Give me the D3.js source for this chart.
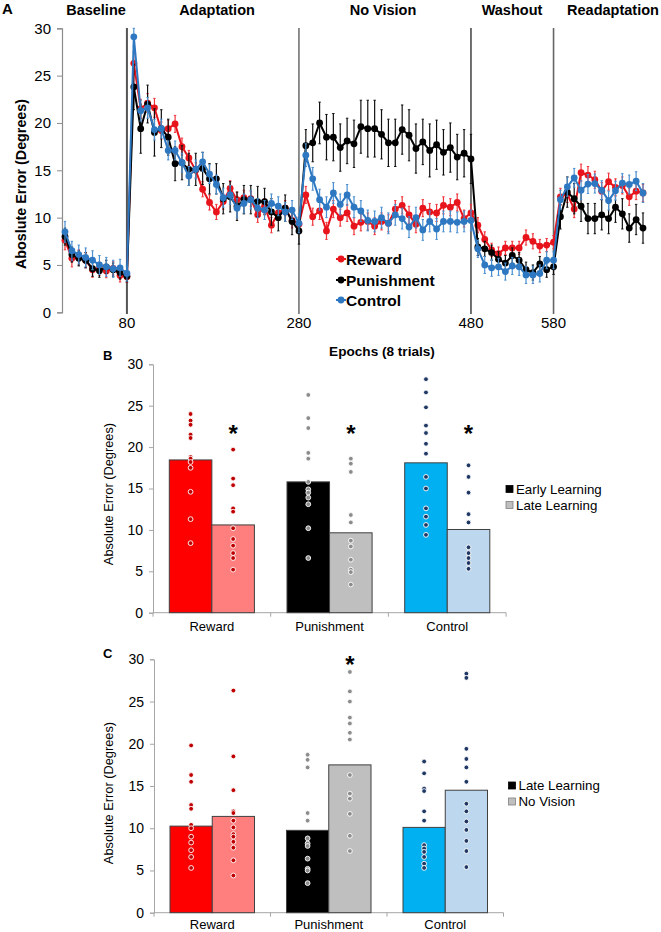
<!DOCTYPE html>
<html><head><meta charset="utf-8">
<script src="https://cdn.jsdelivr.net/npm/d3@7/dist/d3.min.js"></script>
<style>
body{margin:0;background:#fff}
svg{display:block}
text{font-family:Arial,"Liberation Sans",sans-serif;fill:#000}
</style>
</head><body>
<svg id="chart" width="661" height="932"></svg>
<script>
// ---------------- DATA ----------------
// Panel A: 85 epochs of 8 trials (baseline 10, adaptation 25, no vision 25, washout 12, readaptation 13)
const phaseLabels = ["Baseline", "Adaptation", "No Vision", "Washout", "Readaptation"];
const xTickLabels = ["80", "280", "480", "580"];
const xTickEpochs = [10, 35, 60, 72];
const seriesNames = ["Reward", "Punishment", "Control"];

const rewardA = [
  7.6, 5.7, 5.8, 5.5, 4.5, 4.6, 4.35, 4.65, 3.9, 3.75,
  26.3, 21.5, 22.1, 21.6, 19.2, 19.4, 19.9, 17.5, 16.3, 15.0, 13.0, 11.6, 10.6, 11.7, 13.1, 11.9, 12.1, 12.0, 10.3, 11.2, 9.2, 10.5, 11.0, 9.7, 9.3,
  12.4, 10.1, 10.7, 8.6, 10.9, 10.0, 10.5, 9.1, 9.5, 9.6, 9.1, 9.6, 9.4, 10.9, 11.3, 10.3, 9.3, 11.0, 10.6, 10.5, 11.3, 11.1, 11.6, 9.9, 10.5,
  9.2, 7.7, 6.6, 6.2, 6.8, 6.8, 6.8, 7.9, 7.5, 7.0, 7.1, 7.4,
  12.2, 12.5, 10.9, 14.75, 14.5, 14.0, 12.8, 13.8, 13.2, 13.4, 12.2, 12.8, 12.6
];
const rewardErr = [
  1.0, 0.9, 0.8, 0.8, 0.8, 0.7, 0.7, 0.7, 0.7, 0.6,
  1.2, 1.0, 1.0, 1.0, 0.9, 0.9, 0.9, 0.9, 0.8, 0.8, 0.8, 0.8, 0.8, 0.8, 0.8, 0.8, 0.8, 0.8, 0.8, 0.8, 0.8, 0.8, 0.8, 0.8, 0.8,
  0.9, 0.9, 0.9, 0.9, 0.9, 0.9, 0.9, 0.9, 0.9, 0.9, 0.9, 0.9, 0.9, 0.9, 0.9, 0.9, 0.9, 0.9, 0.9, 0.9, 0.9, 0.9, 0.9, 0.9, 0.9,
  0.8, 0.8, 0.7, 0.7, 0.7, 0.7, 0.7, 0.8, 0.8, 0.7, 0.7, 0.7,
  0.9, 0.9, 0.9, 0.9, 0.9, 0.9, 0.9, 0.9, 0.9, 0.9, 0.9, 0.9, 0.9
];
const punishmentA = [
  8.0, 6.1, 5.7, 5.5, 4.6, 4.4, 4.8, 4.5, 4.2, 3.8,
  23.8, 19.4, 22.0, 19.0, 19.4, 18.5, 15.7, 15.8, 15.1, 15.1, 15.2, 14.1, 14.1, 12.0, 12.2, 11.2, 11.9, 11.9, 11.7, 11.7, 10.6, 10.0, 11.0, 9.6, 8.6,
  17.6, 17.9, 20.0, 18.5, 18.5, 17.4, 18.1, 17.8, 19.6, 19.4, 19.4, 18.8, 17.9, 17.9, 19.3, 18.7, 17.3, 18.0, 17.1, 17.7, 16.9, 17.4, 16.4, 16.8, 16.2,
  6.9, 6.7, 6.3, 5.6, 5.2, 6.0, 5.5, 4.5, 4.2, 5.1, 4.5, 4.8,
  10.1, 12.7, 12.0, 11.2, 9.9, 9.9, 10.3, 9.9, 11.1, 10.4, 8.9, 9.8, 8.9
];
const punishmentErr = [
  0.9, 0.8, 0.8, 0.8, 0.8, 0.7, 0.7, 0.7, 0.7, 0.6,
  2.4, 2.6, 2.0, 2.5, 2.0, 1.9, 1.8, 1.8, 1.7, 1.7, 1.7, 1.6, 1.6, 1.6, 1.6, 1.5, 1.5, 1.5, 1.6, 1.4, 1.4, 1.4, 1.4, 1.4, 1.4,
  1.7, 2.0, 2.2, 2.4, 2.5, 2.5, 2.4, 2.5, 2.8, 3.0, 3.0, 2.6, 2.5, 2.5, 2.6, 2.7, 2.6, 2.4, 2.8, 2.6, 2.4, 2.6, 2.4, 2.5, 2.6,
  0.9, 0.8, 0.8, 0.8, 0.8, 0.8, 0.8, 0.8, 0.8, 0.8, 0.8, 0.8,
  1.3, 1.6, 1.6, 1.6, 1.6, 1.6, 1.6, 1.6, 1.6, 1.6, 1.5, 1.6, 1.6
];
const controlA = [
  8.5, 6.5, 6.1, 5.8, 5.5, 5.0, 4.8, 4.6, 4.7, 4.1,
  29.1, 21.3, 21.6, 19.3, 19.4, 17.1, 17.1, 15.8, 14.4, 15.1, 15.9, 14.6, 13.5, 12.1, 12.4, 11.0, 11.5, 11.9, 11.0, 10.8, 11.5, 11.2, 10.6, 10.8, 9.4,
  16.6, 14.1, 11.9, 11.1, 12.6, 11.4, 12.4, 11.1, 10.7, 9.7, 9.6, 10.0, 9.4, 10.3, 9.9, 9.0, 10.0, 8.7, 9.6, 8.8, 9.6, 9.6, 9.5, 9.6, 9.7,
  6.7, 5.0, 4.7, 4.8, 4.3, 4.9, 4.8, 3.95, 3.95, 4.1, 5.5, 5.5,
  11.9, 13.25, 14.2, 12.9, 13.55, 13.6, 12.9, 11.8, 12.85, 13.65, 13.5, 13.85, 12.6
];
const controlErr = [
  1.1, 1.0, 1.0, 1.0, 1.0, 1.0, 1.0, 0.9, 0.9, 0.8,
  1.0, 1.1, 1.1, 1.1, 1.0, 1.0, 1.0, 1.0, 1.0, 1.0, 1.0, 1.0, 1.0, 1.0, 1.0, 1.0, 1.0, 1.0, 1.0, 1.0, 1.0, 1.0, 1.0, 1.0, 1.0,
  1.2, 1.2, 1.1, 1.1, 1.1, 1.1, 1.1, 1.1, 1.1, 1.1, 1.1, 1.1, 1.1, 1.1, 1.1, 1.1, 1.1, 1.1, 1.1, 1.1, 1.1, 1.1, 1.1, 1.1, 1.1,
  0.9, 0.9, 0.9, 0.9, 0.9, 0.9, 0.9, 0.9, 0.9, 0.9, 0.9, 0.9,
  1.0, 1.0, 1.0, 1.0, 1.0, 1.0, 1.0, 1.0, 1.0, 1.0, 1.0, 1.0, 1.0
];

// Panel B & C categories
const groups = ["Reward", "Punishment", "Control"];
const yTicksBar = [0, 5, 10, 15, 20, 25, 30];

// Panel B: Early Learning vs Late Learning
const legendB = ["Early Learning", "Late Learning"];
const barsEarlyB = [18.45, 15.8, 18.1];
const barsLateB = [10.6, 9.65, 10.05];
const dotsEarlyB = [
  [24.0, 23.2, 22.7, 21.5, 21.1, 18.8, 18.6, 18.2, 17.5, 14.6, 11.3, 8.4],
  [26.3, 23.5, 22.3, 19.3, 18.6, 15.8, 14.9, 14.5, 13.9, 13.1, 10.2, 6.6],
  [28.2, 26.6, 24.8, 22.6, 21.7, 20.4, 19.2, 16.4, 15.0, 12.6, 11.6, 10.6, 9.4]
];
const dotsLateB = [
  [19.7, 16.2, 15.4, 12.6, 12.2, 10.2, 8.9, 8.1, 7.2, 6.6, 5.2],
  [18.6, 18.0, 17.0, 11.8, 10.9, 8.7, 8.0, 6.4, 5.2, 4.9, 3.4],
  [17.8, 16.4, 14.5, 11.9, 10.9, 7.9, 7.2, 6.6, 6.0, 5.3]
];
const starsB = [true, true, true];

// Panel C: Late Learning vs No Vision
const legendC = ["Late Learning", "No Vision"];
const barsLateC = [10.25, 9.75, 10.1];
const barsNoVisionC = [11.4, 17.5, 14.5];
const dotsLateC = [
  [19.8, 16.3, 15.5, 12.75, 12.3, 10.4, 10.0, 9.0, 8.3, 7.4, 6.6, 5.3],
  [18.7, 18.1, 17.2, 11.8, 10.9, 8.8, 8.2, 7.9, 6.4, 5.2, 5.0, 3.5],
  [17.9, 16.5, 14.7, 14.4, 12.0, 10.9, 8.0, 7.6, 7.2, 6.6, 5.8, 5.3]
];
const dotsNoVisionC = [
  [26.3, 18.5, 14.5, 12.0, 11.8, 10.9, 10.1, 9.3, 9.0, 8.4, 7.7, 6.2, 4.4],
  [28.5, 26.2, 25.0, 23.1, 22.4, 21.3, 20.5, 16.3, 14.1, 13.5, 11.7, 9.1, 7.3],
  [28.3, 27.8, 19.4, 18.2, 17.2, 15.5, 12.9, 12.0, 10.8, 9.8, 8.5, 7.3, 5.4]
];
const starsC = [false, true, false];

// ---------------- STYLE ----------------
const seriesColors = ["#e8141c", "#000000", "#2e78c2"];
const errColors = ["#f0343a", "#111111", "#4a8fd0"];
const barFillDark = ["#ff0000", "#000000", "#00b0f0"];
const barFillLight = ["#ff7f7f", "#bfbfbf", "#bdd7ee"];
const dotColors = ["#c00000", "#8c8c8c", "#1f3864"];

const svg = d3.select("#chart");

// ---------------- PANEL A ----------------
(function panelA() {
  const x = d3.scaleLinear().domain([1, 85]).range([65, 643]);
  const y = d3.scaleLinear().domain([0, 30]).range([312.3, 28.3]);
  const g = svg.append("g");

  // y axis
  const ax = g.append("g").attr("transform", "translate(62,0)")
    .call(d3.axisLeft(y).tickValues([0, 5, 10, 15, 20, 25, 30]).tickSize(5).tickPadding(6));
  ax.select(".domain").attr("stroke", "#8c8c8c").attr("stroke-width", 1.2);
  ax.selectAll(".tick line").attr("stroke", "#8c8c8c");
  ax.selectAll(".tick text").style("font-size", "15px").attr("fill", "#000")
    .style("font-family", "Arial, 'Liberation Sans', sans-serif");

  // phase dividers
  const divColors = ["#555", "#444", "#111", "#666"];
  const divWidths = [2, 1.2, 1.2, 1.6];
  xTickEpochs.forEach((e, i) => {
    g.append("line").attr("x1", x(e)).attr("x2", x(e)).attr("y1", 28).attr("y2", 314)
      .attr("stroke", divColors[i]).attr("stroke-width", divWidths[i]);
    g.append("text").attr("x", x(e)).attr("y", 328).attr("text-anchor", "middle")
      .style("font-size", "15px").text(xTickLabels[i]);
  });

  // phase labels
  const phaseCenters = [96, 217, 383, 512, 613];
  phaseLabels.forEach((p, i) => {
    g.append("text").attr("x", phaseCenters[i]).attr("y", 15).attr("text-anchor", "middle")
      .style("font-size", "14.5px").style("font-weight", "bold").text(p);
  });

  g.append("text").attr("x", 2).attr("y", 14).style("font-size", "15px").style("font-weight", "bold").text("A");

  // y title
  g.append("text").attr("transform", "translate(21,184) rotate(-90)").attr("text-anchor", "middle")
    .attr("dominant-baseline", "central")
    .style("font-size", "14.3px").style("font-weight", "bold").text("Aboslute Error (Degrees)");

  const series = [
    { v: rewardA, e: rewardErr, i: 0 },
    { v: punishmentA, e: punishmentErr, i: 1 },
    { v: controlA, e: controlErr, i: 2 }
  ];
  const line = d3.line().x((d, k) => x(k + 1)).y(d => y(d));

  series.forEach(s => {
    const sg = g.append("g");
    // error bars
    s.v.forEach((v, k) => {
      const hi = Math.min(30, v + s.e[k]), lo = v - s.e[k];
      const cx = x(k + 1);
      sg.append("line").attr("x1", cx).attr("x2", cx).attr("y1", y(hi)).attr("y2", y(lo))
        .attr("stroke", errColors[s.i]).attr("stroke-width", 1.2);
      [hi, lo].forEach(h => sg.append("line").attr("x1", cx - 1.2).attr("x2", cx + 1.2)
        .attr("y1", y(h)).attr("y2", y(h)).attr("stroke", errColors[s.i]).attr("stroke-width", 1));
    });
    sg.append("path").datum(s.v).attr("d", line).attr("fill", "none")
      .attr("stroke", seriesColors[s.i]).attr("stroke-width", 2);
    sg.selectAll("circle").data(s.v).join("circle")
      .attr("cx", (d, k) => x(k + 1)).attr("cy", d => y(d)).attr("r", 3.4)
      .attr("fill", seriesColors[s.i]);
  });

  // legend
  const ly = [259, 280, 300];
  seriesNames.forEach((n, i) => {
    g.append("line").attr("x1", 336).attr("x2", 346).attr("y1", ly[i]).attr("y2", ly[i])
      .attr("stroke", seriesColors[i]).attr("stroke-width", 2);
    g.append("circle").attr("cx", 341).attr("cy", ly[i]).attr("r", 3.4).attr("fill", seriesColors[i]);
    g.append("text").attr("x", 346).attr("y", ly[i]).attr("dominant-baseline", "central")
      .style("font-size", "15.5px").style("font-weight", "bold").text(n);
  });
})();

// ---------------- PANELS B & C ----------------
function barPanel(cfg) {
  const g = svg.append("g");
  const y = d3.scaleLinear().domain([0, 30]).range([cfg.y0, cfg.y30]);
  const xc = d3.scaleBand().domain(groups).range([cfg.ax, cfg.ax + 3 * cfg.cw]).padding(0);
  const xs = d3.scaleBand().domain([0, 1]).range([cfg.pad, cfg.cw - cfg.pad]).padding(0);

  // y axis
  const ya = g.append("g").attr("transform", `translate(${cfg.ax},0)`)
    .call(d3.axisLeft(y).tickValues(yTicksBar).tickSize(4).tickPadding(6));
  ya.select(".domain").attr("stroke", "#a6a6a6");
  ya.selectAll(".tick line").attr("stroke", "#a6a6a6");
  ya.selectAll(".tick text").style("font-size", "14px").attr("fill", "#222")
    .style("font-family", "Arial, 'Liberation Sans', sans-serif");

  // x axis
  const xa = g.append("g").attr("transform", `translate(0,${cfg.y0})`);
  xa.append("line").attr("x1", cfg.ax).attr("x2", cfg.ax + 3 * cfg.cw).attr("stroke", "#a6a6a6");
  [0, 1, 2, 3].forEach(k => xa.append("line").attr("x1", cfg.ax + k * cfg.cw).attr("x2", cfg.ax + k * cfg.cw)
    .attr("y1", 0).attr("y2", 4).attr("stroke", "#a6a6a6"));
  groups.forEach(gname => xa.append("text").attr("x", xc(gname) + cfg.cw / 2).attr("y", cfg.labelDy)
    .attr("text-anchor", "middle").style("font-size", "13px").attr("fill", "#222").text(gname));

  // bars + dots
  groups.forEach((gname, i) => {
    [0, 1].forEach(j => {
      const val = j === 0 ? cfg.bars0[i] : cfg.bars1[i];
      const bx = xc(gname) + xs(j);
      g.append("rect").attr("x", bx).attr("y", y(val)).attr("width", xs.bandwidth())
        .attr("height", cfg.y0 - y(val))
        .attr("fill", j === 0 ? barFillDark[i] : barFillLight[i])
        .attr("stroke", "#404040").attr("stroke-width", 1);
    });
  });
  groups.forEach((gname, i) => {
    [0, 1].forEach(j => {
      const dots = j === 0 ? cfg.dots0[i] : cfg.dots1[i];
      const cx = xc(gname) + xs(j) + xs.bandwidth() / 2;
      g.selectAll(null).data(dots).join("circle")
        .attr("cx", cx).attr("cy", d => y(d)).attr("r", 2.4)
        .attr("fill", dotColors[i]).attr("stroke", "#fff").attr("stroke-width", 0.9);
    });
    if (cfg.stars[i]) {
      const cx = xc(gname) + xs(1) + xs.bandwidth() / 2;
      g.append("text").attr("x", cx).attr("y", cfg.starY + 14).attr("text-anchor", "middle")
        .style("font-size", "24px").style("font-weight", "bold").text("*");
    }
  });

  // y title
  g.append("text").attr("transform", `translate(108.5,${cfg.titleY}) rotate(-90)`)
    .attr("text-anchor", "middle").attr("dominant-baseline", "central")
    .style("font-size", "12.8px").attr("fill", "#222").text("Absolute Error (Degrees)");

  // panel letter
  g.append("text").attr("x", 103).attr("y", cfg.letterY).style("font-size", "13px")
    .style("font-weight", "bold").text(cfg.letter);

  // legend
  cfg.legend.forEach((t, k) => {
    const ly = cfg.legY + k * 16;
    g.append("rect").attr("x", cfg.legX).attr("y", ly - 3.5).attr("width", 7).attr("height", 7)
      .attr("fill", k === 0 ? "#000" : "#bfbfbf").attr("stroke", k === 0 ? "#000" : "#7f7f7f").attr("stroke-width", 0.8);
    g.append("text").attr("x", cfg.legX + 10).attr("y", ly).attr("dominant-baseline", "central")
      .style("font-size", "13.3px").attr("fill", "#222").text(t);
  });
}

barPanel({
  y0: 612.7, y30: 364.3, ax: 153, cw: 117.7, pad: 16.3, labelDy: 18.5,
  bars0: barsEarlyB, bars1: barsLateB, dots0: dotsEarlyB, dots1: dotsLateB,
  stars: starsB, starY: 428, titleY: 494, letter: "B", letterY: 360,
  legend: legendB, legX: 506, legY: 489
});
svg.append("text").attr("x", 382).attr("y", 356).attr("text-anchor", "middle")
  .style("font-size", "13.6px").style("font-weight", "bold").text("Epochs (8 trials)");

barPanel({
  y0: 912.7, y30: 659.3, ax: 154, cw: 116.5, pad: 16, labelDy: 16.5,
  bars0: barsLateC, bars1: barsNoVisionC, dots0: dotsLateC, dots1: dotsNoVisionC,
  stars: starsC, starY: 659, titleY: 793, letter: "C", letterY: 658,
  legend: legendC, legX: 508.5, legY: 785.5
});
</script>
</body></html>
